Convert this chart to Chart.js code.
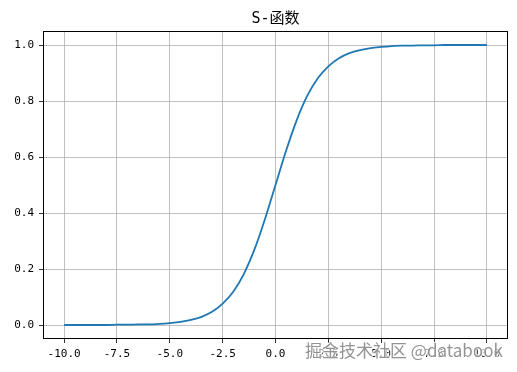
<!DOCTYPE html>
<html><head><meta charset="utf-8">
<script src="https://cdn.jsdelivr.net/npm/chart.js@4"></script>
<style>html,body{margin:0;padding:0;background:#fff}#wrap{width:517px;height:372px}</style>
</head><body><div id="wrap"><canvas id="c" width="517" height="372"></canvas></div>
<script>
const xValues = [-10,-9.5,-9,-8.5,-8,-7.5,-7,-6.5,-6,-5.5,-5,-4.5,-4,-3.5,-3,-2.5,-2,-1.5,-1,-0.5,0,0.5,1,1.5,2,2.5,3,3.5,4,4.5,5,5.5,6,6.5,7,7.5,8,8.5,9,9.5,10];
const yValues = [0.000,0.000,0.000,0.000,0.000,0.001,0.001,0.002,0.002,0.004,0.007,0.011,0.018,0.029,0.047,0.076,0.119,0.182,0.269,0.378,0.500,0.622,0.731,0.818,0.881,0.924,0.953,0.971,0.982,0.989,0.993,0.996,0.998,0.998,0.999,0.999,1.000,1.000,1.000,1.000,1.000];
const xTicks = [-10,-7.5,-5,-2.5,0,2.5,5,7.5,10];
const yTicks = [0,0.2,0.4,0.6,0.8,1.0];
const titleText = 'S-函数';
const watermark = '掘金技术社区 @databook';

const font = {family:'"DejaVu Sans Mono", "Noto Sans CJK SC", monospace', size:11};

const deco = {
  id:'deco',
  afterDraw(chart){
    const {ctx, chartArea:a} = chart;
    ctx.save();
    ctx.strokeStyle='#000'; ctx.lineWidth=1;
    ctx.strokeRect(Math.round(a.left)+0.5, Math.round(a.top)+0.5, Math.round(a.right-a.left)-1, Math.round(a.bottom-a.top)-1);
    ctx.fillStyle='#000';
    ctx.font='15px "DejaVu Sans Mono", "Noto Sans CJK SC", sans-serif';
    ctx.textAlign='center'; ctx.textBaseline='middle';
    ctx.fillText(titleText,(a.left+a.right)/2,19);
    ctx.font='17px "Noto Sans CJK SC", "DejaVu Sans", sans-serif';
    ctx.textAlign='left';
    ctx.lineWidth=2.5; ctx.strokeStyle='rgba(255,255,255,0.75)';
    ctx.strokeText(watermark,305,351);
    ctx.fillStyle='rgba(135,135,135,0.9)';
    ctx.fillText(watermark,305,351);
    ctx.restore();
  }
};

new Chart(document.getElementById('c'),{
  type:'line',
  data:{datasets:[{data:xValues.map((x,i)=>({x:x,y:yValues[i]})),borderColor:'#1f77b4',borderWidth:1.8,pointRadius:0,cubicInterpolationMode:'monotone',fill:false}]},
  options:{
    responsive:false,animation:false,
    layout:{padding:{top:31,right:9,left:0,bottom:0}},
    plugins:{legend:{display:false},tooltip:{enabled:false},title:{display:false}},
    scales:{
      x:{type:'linear',min:-11,max:11,
        afterBuildTicks(s){s.ticks=xTicks.map(v=>({value:v}));},
        afterFit(s){s.height=33;},
        border:{display:false},
        grid:{color:'#b0b0b0',lineWidth:0.8,tickColor:'#000',tickLength:4,drawTicks:true},
        ticks:{color:'#000',font:font,padding:5,maxRotation:0,callback:v=>v.toFixed(1)}},
      y:{type:'linear',min:-0.05,max:1.05,
        afterBuildTicks(s){s.ticks=yTicks.map(v=>({value:v}));},
        afterFit(s){s.width=43;},
        border:{display:false},
        grid:{color:'#b0b0b0',lineWidth:0.8,tickColor:'#000',tickLength:4,drawTicks:true},
        ticks:{color:'#000',font:font,padding:5,callback:v=>v.toFixed(1)}}
    }
  },
  plugins:[deco]
});
</script></body></html>
